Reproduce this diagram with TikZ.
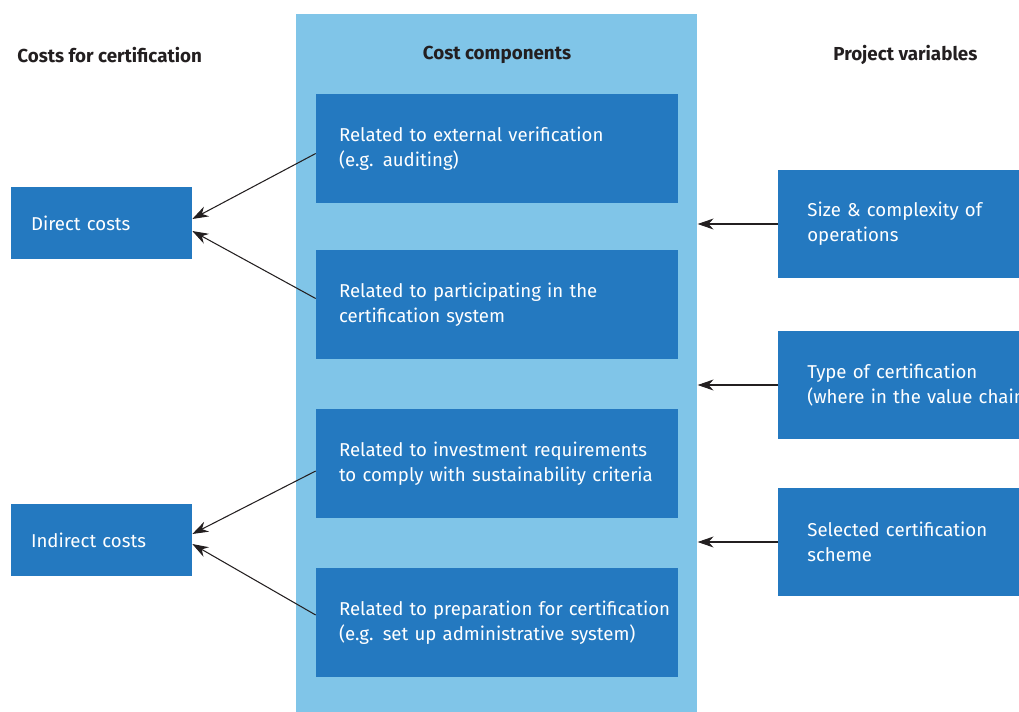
\documentclass[tikz,border=0pt]{standalone}
\usepackage{fontspec}
\setmainfont{Fira Sans}
\usetikzlibrary{arrows.meta}

\definecolor{darkblue}{RGB}{36,121,192}
\definecolor{lightblue}{RGB}{128,197,232}
\definecolor{inkblack}{RGB}{35,31,32}

\begin{document}
\begin{tikzpicture}[x=0.02cm, y=-0.02cm,
        every node/.style={font=\fontsize{10.6}{14.2}\selectfont},
        compbox/.style={fill=darkblue, text=white, minimum width=7.24cm, minimum height=2.18cm, text width=6.32cm, inner xsep=0.46cm, align=left},
        costbox/.style={fill=darkblue, text=white, minimum width=3.62cm, minimum height=1.44cm, text width=2.82cm, inner xsep=0.4cm, align=left},
        varbox/.style={fill=darkblue, text=white, minimum width=6cm, minimum height=2.16cm, text width=4.84cm, inner xsep=0.58cm, align=left},
        header/.style={text=inkblack, font=\fontsize{10.7}{14.2}\selectfont\bfseries, inner sep=0pt},
        arrow/.style={draw=inkblack, line width=0.6pt, -{Stealth[length=3.2mm, width=2.2mm]}}]
            \useasboundingbox (0,0) rectangle (1019,711);
            \clip (0,0) rectangle (1019,711);

            \node [fill=lightblue, minimum width=8.02cm, minimum height=14.4cm, inner sep=0pt, anchor=north west] (column) at (296,14) {};

            \node [header, anchor=west] (left head) at (17,55) {Costs for certification};
            \node [header] (mid head) at (497,55) {Cost components};
            \node [header, anchor=west] (right head) at (833,55) {Project variables};

            \node [compbox] (comp1) at (497,148.5) {Related to external verification\\(e.g. auditing)};
            \node [compbox] (comp2) at (497,304.5) {Related to participating in the\\certification system};
            \node [compbox] (comp3) at (497,463.5) {Related to investment requirements\\to comply with sustainability criteria};
            \node [compbox] (comp4) at (497,622.5) {\mbox{Related to preparation for certification}\\(e.g. set up administrative system)};

            \node [costbox] (direct) at (101.5,223) {Direct costs};
            \node [costbox] (indirect) at (101.5,540) {Indirect costs};

            \node [varbox, anchor=west] (var1) at (778,224) {Size \& complexity of\\operations};
            \node [varbox, anchor=west] (var2) at (778,385) {Type of certification\\(where in the value chain)};
            \node [varbox, anchor=west] (var3) at (778,542) {Selected certification\\scheme};

            % components to costs
            \draw [arrow] ([yshift=-0.1cm]comp1.west) -- ([yshift=0.08cm]direct.east);
            \draw [arrow] ([yshift=0.12cm]comp2.west) -- ([yshift=-0.16cm]direct.east);
            \draw [arrow] ([yshift=-0.15cm]comp3.west) -- ([yshift=0.12cm]indirect.east);
            \draw [arrow] ([yshift=0.15cm]comp4.west) -- ([yshift=-0.08cm]indirect.east);

            % variables to components
            \draw [arrow] (var1.west) -- (var1.west -| column.east);
            \draw [arrow] (var2.west) -- (var2.west -| column.east);
            \draw [arrow] (var3.west) -- (var3.west -| column.east);
        \end{tikzpicture}
\end{document}
